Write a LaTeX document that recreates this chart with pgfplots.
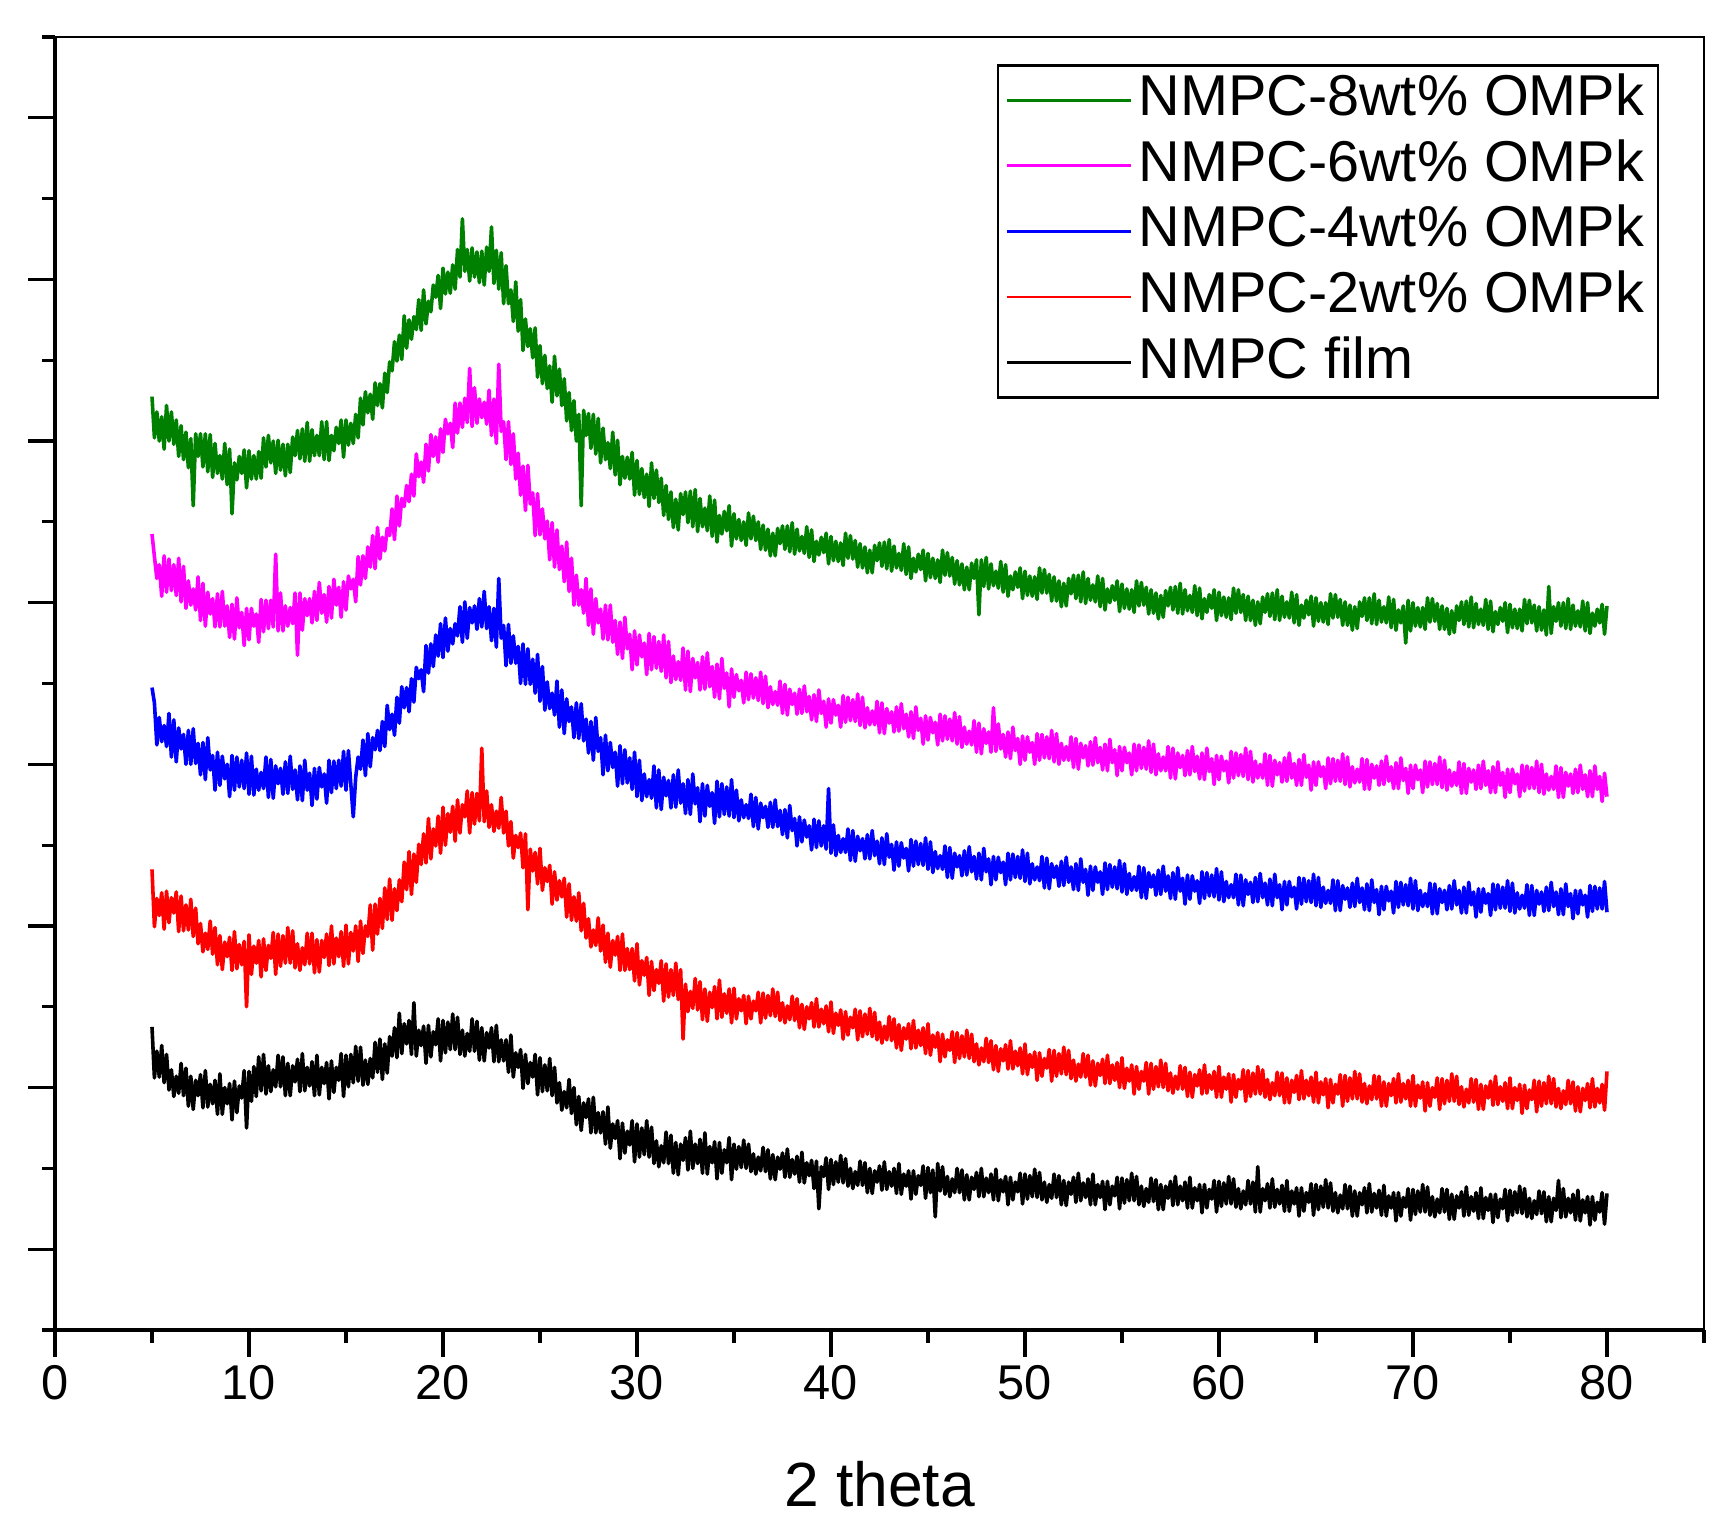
\documentclass[border=0pt]{standalone}
\usepackage{pgfplots}
\usepackage{pgfplotstable}
\usepackage{fontspec}
\setmainfont{Liberation Sans}
\pgfplotsset{compat=1.18}
\definecolor{cG}{RGB}{0,128,0}
\definecolor{cM}{RGB}{255,0,255}
\definecolor{cB}{RGB}{0,0,255}
\definecolor{cR}{RGB}{255,0,0}
\pgfplotstableread{
x g m b r k
5 11.55 9.85 7.95 5.70 3.75
5.125 11.04 9.57 7.76 4.99 3.12
5.25 11.36 9.30 7.24 5.34 3.45
5.375 11.00 9.47 7.58 5.13 3.13
5.5 11.30 9.08 7.28 5.41 3.52
5.625 10.90 9.58 7.48 4.96 3.06
5.75 11.44 9.13 7.22 5.43 3.41
5.875 11.00 9.54 7.63 5.04 2.97
6 11.36 9.15 7.09 5.35 3.22
6.125 10.96 9.47 7.55 5.16 2.89
6.25 11.26 9.09 7.03 5.42 3.14
6.375 10.81 9.55 7.45 4.93 2.93
6.5 11.19 9.01 7.19 5.37 3.30
6.625 10.77 9.45 7.37 4.94 2.90
6.75 11.11 8.93 7.00 5.26 3.24
6.875 10.67 9.27 7.42 4.95 2.77
7 11.03 8.97 7.00 5.33 3.14
7.125 10.20 9.17 7.44 4.87 2.73
7.25 11.09 8.91 7.01 5.22 3.09
7.375 10.81 9.32 7.26 4.78 2.90
7.5 11.09 8.78 6.87 5.03 3.16
7.625 10.68 9.24 7.27 4.68 2.75
7.75 11.09 8.71 6.81 4.91 3.21
7.875 10.62 9.13 7.33 4.71 2.76
8 11.08 8.86 6.93 5.06 3.04
8.125 10.55 9.05 7.11 4.65 2.80
8.25 10.97 8.70 6.68 4.98 3.09
8.375 10.60 9.11 7.15 4.52 2.67
8.5 10.82 8.70 6.74 4.88 3.17
8.625 10.53 9.14 7.10 4.46 2.67
8.75 10.97 8.71 6.82 4.80 3.00
8.875 10.46 8.96 7.00 4.62 2.80
9 10.90 8.57 6.60 4.86 3.05
9.125 10.10 8.98 7.11 4.45 2.60
9.25 10.73 8.55 6.68 4.93 3.08
9.375 10.52 9.06 7.09 4.47 2.69
9.5 10.81 8.69 6.72 4.77 3.02
9.625 10.60 8.88 7.05 4.52 2.87
9.75 10.89 8.47 6.70 4.81 3.21
9.875 10.42 8.93 7.14 4.00 2.50
10 10.88 8.54 6.63 4.89 3.20
10.125 10.53 8.93 7.10 4.40 2.83
10.25 10.82 8.71 6.62 4.75 3.26
10.375 10.53 8.86 6.94 4.54 2.89
10.5 10.87 8.51 6.68 4.82 3.38
10.625 10.54 9.04 6.90 4.37 2.96
10.75 11.04 8.64 6.70 4.84 3.41
10.875 10.68 9.03 7.09 4.45 2.92
11 11.07 8.68 6.59 4.76 3.27
11.125 10.73 9.03 7.06 4.60 2.95
11.25 11.00 8.70 6.58 4.92 3.22
11.375 10.60 9.60 6.98 4.40 3.01
11.5 11.01 8.65 6.76 4.90 3.40
11.625 10.64 9.12 6.95 4.50 3.01
11.75 10.96 8.65 6.63 4.88 3.38
11.875 10.57 8.96 7.03 4.54 2.90
12 10.96 8.71 6.64 4.98 3.30
12.125 10.61 8.94 7.10 4.54 2.90
12.25 11.05 8.74 6.69 4.94 3.27
12.375 10.82 9.12 6.93 4.48 3.07
12.5 11.13 8.35 6.56 4.78 3.35
12.625 10.78 9.12 6.98 4.45 2.95
12.75 11.15 8.66 6.55 4.73 3.42
12.875 10.75 9.05 7.05 4.52 2.96
13 11.23 8.84 6.68 4.91 3.25
13.125 10.75 9.05 6.89 4.53 3.02
13.25 11.14 8.75 6.49 4.91 3.32
13.375 10.82 9.14 6.95 4.42 2.90
13.5 11.07 8.78 6.57 4.83 3.40
13.625 10.82 9.25 6.96 4.43 2.91
13.75 11.24 8.87 6.72 4.82 3.25
13.875 10.77 9.10 6.88 4.61 3.05
14 11.24 8.76 6.52 4.90 3.31
14.125 10.76 9.20 7.05 4.51 2.86
14.25 11.07 8.81 6.65 5.00 3.33
14.375 10.88 9.29 7.04 4.53 2.94
14.5 11.17 8.97 6.70 4.85 3.25
14.625 10.97 9.19 7.05 4.62 3.09
14.75 11.26 8.82 6.73 4.93 3.42
14.875 10.80 9.26 7.16 4.50 2.89
15 11.26 8.91 6.68 5.01 3.40
15.125 10.95 9.33 7.17 4.53 3.01
15.25 11.22 9.17 6.75 4.92 3.41
15.375 10.97 9.29 6.35 4.69 3.06
15.5 11.33 9.01 6.84 5.00 3.51
15.625 11.04 9.57 7.09 4.56 3.08
15.75 11.53 9.22 6.94 5.06 3.50
15.875 11.20 9.58 7.30 4.66 3.03
16 11.61 9.30 6.86 5.00 3.34
16.125 11.35 9.69 7.38 4.87 3.04
16.25 11.58 9.44 6.97 5.26 3.36
16.375 11.27 9.83 7.33 4.70 3.12
16.5 11.72 9.42 7.18 5.27 3.56
16.625 11.44 9.93 7.42 4.90 3.19
16.75 11.71 9.54 7.17 5.34 3.60
16.875 11.41 9.81 7.53 4.97 3.10
17 11.84 9.64 7.22 5.47 3.54
17.125 11.60 9.92 7.73 5.08 3.18
17.25 11.98 9.83 7.43 5.58 3.63
17.375 11.87 10.16 7.62 5.07 3.39
17.5 12.23 9.78 7.36 5.46 3.74
17.625 11.99 10.32 7.83 5.19 3.37
17.75 12.31 9.95 7.51 5.57 3.92
17.875 12.01 10.29 7.96 5.30 3.42
18 12.55 10.19 7.70 5.79 3.79
18.125 12.15 10.45 7.95 5.45 3.54
18.25 12.50 10.25 7.65 5.92 3.83
18.375 12.26 10.59 8.06 5.39 3.41
18.5 12.54 10.32 7.77 5.89 4.05
18.625 12.38 10.84 8.20 5.54 3.39
18.75 12.75 10.56 8.06 6.01 3.71
18.875 12.37 10.74 8.17 5.76 3.52
19 12.87 10.49 7.90 6.14 3.76
19.125 12.45 10.96 8.47 5.78 3.30
19.25 12.73 10.63 8.13 6.33 3.77
19.375 12.60 11.08 8.49 5.83 3.38
19.5 12.93 10.81 8.21 6.20 3.69
19.625 12.78 11.05 8.60 5.99 3.53
19.75 13.05 10.74 8.34 6.36 3.85
19.875 12.64 11.15 8.74 5.90 3.33
20 13.14 10.86 8.32 6.47 3.83
20.125 12.82 11.27 8.81 6.00 3.43
20.25 13.09 11.09 8.40 6.39 3.81
20.375 12.83 11.22 8.68 6.16 3.47
20.5 13.18 10.92 8.49 6.48 3.91
20.625 12.88 11.47 8.74 6.05 3.47
20.75 13.37 11.10 8.59 6.56 3.87
20.875 13.03 11.47 8.95 6.15 3.41
21 13.75 11.17 8.51 6.50 3.71
21.125 13.10 11.53 9.01 6.35 3.39
21.25 13.37 11.23 8.56 6.67 3.67
21.375 12.98 11.90 8.94 6.15 3.45
21.5 13.39 11.18 8.75 6.65 3.85
21.625 13.03 11.66 8.96 6.26 3.45
21.75 13.34 11.22 8.67 6.64 3.82
21.875 12.96 11.52 9.05 6.30 3.34
22 13.35 11.29 8.70 7.20 3.74
22.125 12.93 11.48 9.14 6.29 3.33
22.25 13.40 11.21 8.68 6.67 3.68
22.375 13.10 11.63 8.95 6.22 3.49
22.5 13.65 11.07 8.53 6.50 3.74
22.625 12.95 11.52 8.93 6.17 3.32
22.75 13.36 10.97 8.45 6.42 3.77
22.875 12.88 11.95 9.30 6.21 3.32
23 13.33 11.12 8.56 6.59 3.59
23.125 12.70 11.24 8.72 6.15 3.33
23.25 13.17 10.77 8.22 6.42 3.59
23.375 12.70 11.24 8.73 5.99 3.19
23.5 12.87 10.71 8.25 6.29 3.65
23.625 12.48 11.09 8.59 5.84 3.13
23.75 12.97 10.53 8.25 6.12 3.43
23.875 12.36 10.85 8.46 5.97 3.25
24 12.75 10.33 8.00 6.15 3.47
24.125 12.12 10.69 8.49 5.72 2.99
24.25 12.51 10.14 7.99 6.14 3.41
24.375 12.17 10.70 8.43 5.20 3.05
24.5 12.39 10.22 7.99 5.95 3.31
24.625 12.03 10.36 8.30 5.68 3.13
24.75 12.40 9.83 7.88 5.91 3.41
24.875 11.79 10.35 8.36 5.52 2.91
25 12.18 9.84 7.78 5.96 3.37
25.125 11.71 10.16 8.21 5.44 2.95
25.25 12.06 9.79 7.67 5.72 3.28
25.375 11.65 10.01 8.02 5.55 2.96
25.5 11.93 9.53 7.69 5.75 3.36
25.625 11.48 9.99 7.88 5.27 2.90
25.75 12.05 9.44 7.61 5.67 3.25
25.875 11.56 9.90 8.03 5.32 2.81
26 11.89 9.41 7.46 5.56 3.06
26.125 11.44 9.70 7.92 5.36 2.72
26.25 11.77 9.26 7.38 5.59 2.95
26.375 11.25 9.75 7.81 5.11 2.75
26.5 11.60 9.14 7.53 5.52 3.10
26.625 11.13 9.55 7.71 5.07 2.68
26.75 11.50 8.97 7.33 5.36 3.00
26.875 11.00 9.34 7.76 5.06 2.54
27 11.33 8.97 7.32 5.41 2.89
27.125 10.20 9.16 7.75 4.94 2.47
27.25 11.38 8.87 7.29 5.28 2.81
27.375 11.07 9.30 7.56 4.85 2.63
27.5 11.34 8.72 7.14 5.09 2.86
27.625 10.91 9.17 7.53 4.74 2.44
27.75 11.33 8.61 7.05 4.95 2.88
27.875 10.84 9.05 7.58 4.76 2.44
28 11.28 8.75 7.16 5.10 2.69
28.125 10.73 8.92 7.33 4.69 2.44
28.25 11.16 8.55 6.87 5.01 2.70
28.375 10.77 8.97 7.36 4.55 2.30
28.5 10.98 8.54 6.92 4.91 2.76
28.625 10.66 8.97 7.27 4.49 2.25
28.75 11.11 8.51 6.96 4.82 2.55
28.875 10.58 8.78 7.15 4.64 2.37
29 11.01 8.36 6.73 4.87 2.59
29.125 10.46 8.76 7.23 4.45 2.12
29.25 10.81 8.31 6.76 4.90 2.56
29.375 10.54 8.82 7.18 4.45 2.19
29.5 10.80 8.43 6.77 4.72 2.46
29.625 10.53 8.61 7.08 4.46 2.29
29.75 10.86 8.17 6.69 4.72 2.59
29.875 10.33 8.65 7.15 4.32 2.08
30 10.76 8.23 6.60 4.78 2.55
30.125 10.34 8.60 7.05 4.27 2.14
30.25 10.66 8.33 6.55 4.57 2.50
30.375 10.30 8.50 6.88 4.39 2.17
30.5 10.59 8.11 6.60 4.61 2.59
30.625 10.19 8.62 6.81 4.14 2.14
30.75 10.73 8.17 6.58 4.56 2.51
30.875 10.29 8.58 6.98 4.20 2.06
31 10.64 8.19 6.46 4.46 2.34
31.125 10.24 8.52 6.93 4.29 2.02
31.25 10.54 8.15 6.44 4.57 2.28
31.375 10.08 8.60 6.84 4.07 2.07
31.5 10.45 8.07 6.61 4.53 2.45
31.625 10.03 8.52 6.80 4.12 2.06
31.75 10.37 8.01 6.46 4.46 2.41
31.875 9.93 8.34 6.87 4.14 1.94
32 10.28 8.05 6.47 4.54 2.32
32.125 9.90 8.27 6.93 4.09 1.92
32.25 10.35 8.04 6.52 4.46 2.30
32.375 10.09 8.44 6.76 3.60 2.10
32.5 10.37 7.92 6.39 4.28 2.38
32.625 9.99 8.40 6.81 3.94 1.98
32.75 10.38 7.90 6.38 4.19 2.46
32.875 9.94 8.31 6.88 3.98 2.00
33 10.40 8.07 6.51 4.35 2.30
33.125 9.88 8.26 6.71 3.96 2.06
33.25 10.29 7.92 6.29 4.31 2.36
33.375 9.94 8.33 6.76 3.84 1.94
33.5 10.17 7.93 6.36 4.22 2.44
33.625 9.89 8.38 6.74 3.82 1.93
33.75 10.32 7.96 6.48 4.18 2.27
33.875 9.82 8.21 6.65 3.99 2.07
34 10.27 7.83 6.27 4.25 2.33
34.125 9.75 8.24 6.79 3.85 1.87
34.25 10.08 7.81 6.35 4.33 2.32
34.375 9.85 8.31 6.76 3.87 1.94
34.5 10.13 7.94 6.38 4.16 2.23
34.625 9.89 8.13 6.72 3.92 2.07
34.75 10.20 7.71 6.36 4.22 2.38
34.875 9.70 8.18 6.81 3.80 1.86
35 10.10 7.83 6.34 4.23 2.30
35.125 9.79 8.11 6.68 3.85 1.99
35.25 10.03 7.91 6.30 4.10 2.27
35.375 9.77 8.04 6.56 3.95 2.01
35.5 10.00 7.76 6.34 4.14 2.35
35.625 9.71 8.14 6.50 3.79 2.00
35.75 10.11 7.80 6.33 4.13 2.30
35.875 9.79 8.12 6.63 3.85 1.96
36 10.07 7.82 6.23 4.07 2.18
36.125 9.77 8.07 6.59 3.95 1.93
36.25 10.00 7.79 6.20 4.18 2.14
36.375 9.66 8.14 6.52 3.80 1.97
36.5 9.96 7.75 6.34 4.17 2.26
36.625 9.65 8.09 6.48 3.86 1.96
36.75 9.91 7.70 6.22 4.14 2.23
36.875 9.58 7.96 6.53 3.89 1.87
37 9.86 7.74 6.22 4.22 2.17
37.125 9.58 7.90 6.56 3.88 1.86
37.25 9.92 7.73 6.23 4.18 2.14
37.375 9.73 8.03 6.43 3.83 1.99
37.5 9.95 7.63 6.13 4.05 2.19
37.625 9.66 7.99 6.44 3.80 1.89
37.75 9.95 7.61 6.09 4.01 2.24
37.875 9.63 7.93 6.49 3.84 1.89
38 9.99 7.74 6.18 4.13 2.11
38.125 9.60 7.88 6.33 3.83 1.93
38.25 9.91 7.62 5.99 4.10 2.15
38.375 9.64 7.93 6.35 3.74 1.83
38.5 9.82 7.63 6.04 4.03 2.20
38.625 9.61 7.97 6.31 3.72 1.82
38.75 9.94 7.65 6.10 4.00 2.07
38.875 9.56 7.84 6.24 3.85 1.91
39 9.90 7.55 5.94 4.05 2.10
39.125 9.51 7.86 6.32 3.75 1.75
39.25 9.76 7.53 5.97 4.10 2.09
39.375 9.59 7.92 6.30 3.75 1.50
39.5 9.81 7.63 5.99 3.97 2.02
39.625 9.62 7.78 6.24 3.79 1.90
39.75 9.86 7.46 5.95 4.01 2.13
39.875 9.48 7.81 6.70 3.69 1.74
40 9.82 7.51 5.90 4.06 2.11
40.125 9.52 7.80 6.25 3.67 1.80
40.25 9.76 7.61 5.87 3.92 2.08
40.375 9.51 7.73 6.12 3.77 1.83
40.5 9.74 7.46 5.91 3.96 2.16
40.625 9.46 7.85 6.08 3.60 1.82
40.75 9.86 7.52 5.91 3.94 2.12
40.875 9.55 7.83 6.20 3.65 1.78
41 9.83 7.54 5.81 3.87 2.00
41.125 9.54 7.80 6.18 3.74 1.75
41.25 9.77 7.53 5.80 3.97 1.96
41.375 9.44 7.87 6.11 3.59 1.79
41.5 9.73 7.48 5.93 3.95 2.09
41.625 9.43 7.83 6.08 3.63 1.79
41.75 9.69 7.45 5.83 3.91 2.07
41.875 9.37 7.70 6.13 3.66 1.70
42 9.65 7.49 5.83 3.98 2.00
42.125 9.37 7.66 6.18 3.63 1.69
42.25 9.71 7.49 5.87 3.93 1.97
42.375 9.52 7.78 6.05 3.59 1.83
42.5 9.74 7.39 5.77 3.81 2.03
42.625 9.45 7.76 6.09 3.55 1.73
42.75 9.75 7.38 5.76 3.76 2.08
42.875 9.42 7.69 6.14 3.59 1.74
43 9.78 7.51 5.85 3.88 1.96
43.125 9.39 7.65 6.01 3.58 1.78
43.25 9.70 7.40 5.69 3.85 2.00
43.375 9.43 7.71 6.04 3.49 1.69
43.5 9.61 7.41 5.74 3.78 2.06
43.625 9.40 7.75 6.03 3.46 1.68
43.75 9.73 7.44 5.84 3.74 1.93
43.875 9.35 7.62 5.96 3.60 1.78
44 9.69 7.34 5.68 3.79 1.97
44.125 9.30 7.65 6.07 3.48 1.62
44.25 9.55 7.32 5.74 3.83 1.97
44.375 9.38 7.71 6.05 3.49 1.68
44.5 9.60 7.42 5.76 3.71 1.91
44.625 9.41 7.57 6.02 3.52 1.79
44.75 9.65 7.25 5.75 3.74 2.03
44.875 9.27 7.60 6.09 3.42 1.63
45 9.61 7.30 5.70 3.79 2.01
45.125 9.31 7.58 6.04 3.40 1.70
45.25 9.55 7.39 5.66 3.65 1.98
45.375 9.30 7.52 5.92 3.50 1.40
45.5 9.53 7.24 5.71 3.68 2.06
45.625 9.25 7.62 5.87 3.32 1.72
45.75 9.65 7.29 5.70 3.66 2.02
45.875 9.34 7.60 5.99 3.38 1.68
46 9.62 7.31 5.60 3.59 1.90
46.125 9.33 7.56 5.97 3.46 1.65
46.25 9.56 7.29 5.59 3.69 1.87
46.375 9.23 7.64 5.90 3.31 1.70
46.5 9.52 7.25 5.73 3.68 2.00
46.625 9.22 7.59 5.87 3.36 1.70
46.75 9.48 7.21 5.62 3.64 1.98
46.875 9.16 7.46 5.93 3.38 1.61
47 9.44 7.25 5.63 3.71 1.92
47.125 9.16 7.41 5.98 3.36 1.61
47.25 9.49 7.24 5.67 3.66 1.89
47.375 9.30 7.54 5.86 3.32 1.74
47.5 9.53 7.15 5.58 3.54 1.95
47.625 8.85 7.51 5.90 3.28 1.65
47.75 9.53 7.13 5.57 3.49 2.00
47.875 9.20 7.44 5.96 3.32 1.65
48 9.56 7.26 5.67 3.61 1.88
48.125 9.17 7.40 5.83 3.31 1.70
48.25 9.48 7.15 5.51 3.58 1.93
48.375 9.21 7.70 5.86 3.22 1.61
48.5 9.39 7.16 5.57 3.52 1.99
48.625 9.18 7.50 5.85 3.20 1.60
48.75 9.51 7.19 5.66 3.48 1.86
48.875 9.13 7.37 5.79 3.33 1.71
49 9.47 7.09 5.51 3.53 1.90
49.125 9.08 7.40 5.90 3.23 1.55
49.25 9.33 7.07 5.57 3.58 1.89
49.375 9.16 7.46 5.89 3.23 1.61
49.5 9.38 7.17 5.60 3.45 1.83
49.625 9.19 7.32 5.86 3.27 1.71
49.75 9.43 7.00 5.59 3.49 1.94
49.875 9.05 7.35 5.94 3.17 1.56
50 9.39 7.05 5.55 3.54 1.93
50.125 9.09 7.34 5.90 3.16 1.62
50.25 9.33 7.15 5.52 3.41 1.91
50.375 9.08 7.27 5.77 3.25 1.65
50.5 9.32 7.00 5.57 3.44 1.99
50.625 9.04 7.38 5.73 3.09 1.64
50.75 9.43 7.05 5.56 3.43 1.95
50.875 9.12 7.37 5.86 3.14 1.61
51 9.41 7.08 5.47 3.36 1.83
51.125 9.12 7.34 5.84 3.24 1.58
51.25 9.35 7.07 5.46 3.47 1.80
51.375 9.02 7.42 5.77 3.08 1.63
51.5 9.32 7.03 5.60 3.46 1.93
51.625 9.02 7.38 5.74 3.14 1.64
51.75 9.27 7.00 5.49 3.42 1.91
51.875 8.95 7.26 5.80 3.17 1.55
52 9.24 7.05 5.50 3.50 1.85
52.125 8.96 7.22 5.85 3.16 1.54
52.25 9.30 7.05 5.54 3.46 1.83
52.375 9.11 7.34 5.73 3.11 1.68
52.5 9.34 6.96 5.45 3.34 1.89
52.625 9.05 7.32 5.77 3.08 1.58
52.75 9.34 6.94 5.44 3.29 1.94
52.875 9.01 7.26 5.83 3.13 1.60
53 9.38 7.08 5.54 3.42 1.82
53.125 8.99 7.23 5.70 3.13 1.64
53.25 9.30 6.98 5.38 3.40 1.87
53.375 9.03 7.28 5.74 3.03 1.55
53.5 9.22 6.99 5.44 3.33 1.93
53.625 9.01 7.33 5.73 3.02 1.55
53.75 9.33 7.02 5.54 3.30 1.80
53.875 8.95 7.21 5.67 3.15 1.64
54 9.30 6.93 5.39 3.35 1.84
54.125 8.91 7.25 5.78 3.05 1.49
54.25 9.17 6.92 5.45 3.40 1.84
54.375 9.00 7.31 5.76 3.05 1.55
54.5 9.21 7.02 5.48 3.28 1.78
54.625 9.03 7.18 5.73 3.09 1.66
54.75 9.27 6.86 5.46 3.31 1.89
54.875 8.89 7.22 5.81 3.00 1.50
55 9.23 6.92 5.42 3.37 1.88
55.125 8.93 7.21 5.77 2.99 1.57
55.25 9.17 7.02 5.39 3.24 1.86
55.375 8.92 7.14 5.65 3.08 1.60
55.5 9.16 6.87 5.44 3.28 1.94
55.625 8.88 7.25 5.61 2.92 1.60
55.75 9.27 6.92 5.44 3.26 1.90
55.875 8.96 7.24 5.74 2.98 1.55
56 9.25 6.95 5.35 3.20 1.78
56.125 8.97 7.21 5.72 3.08 1.53
56.25 9.19 6.94 5.34 3.31 1.75
56.375 8.86 7.29 5.66 2.92 1.58
56.5 9.16 6.90 5.48 3.30 1.88
56.625 8.87 7.25 5.63 2.98 1.59
56.75 9.12 6.87 5.38 3.26 1.86
56.875 8.80 7.13 5.69 3.01 1.49
57 9.09 6.92 5.39 3.34 1.80
57.125 8.82 7.09 5.74 3.00 1.49
57.25 9.15 6.92 5.43 3.30 1.78
57.375 8.96 7.22 5.62 2.96 1.63
57.5 9.19 6.83 5.34 3.18 1.84
57.625 8.91 7.20 5.66 2.93 1.54
57.75 9.20 6.82 5.33 3.14 1.90
57.875 8.87 7.14 5.72 2.98 1.55
58 9.24 6.96 5.43 3.27 1.78
58.125 8.86 7.11 5.59 2.98 1.60
58.25 9.16 6.86 5.27 3.25 1.83
58.375 8.90 7.17 5.63 2.89 1.51
58.5 9.09 6.87 5.33 3.19 1.89
58.625 8.88 7.22 5.62 2.88 1.51
58.75 9.21 6.91 5.43 3.16 1.76
58.875 8.84 7.10 5.56 3.02 1.60
59 9.18 6.82 5.28 3.22 1.80
59.125 8.80 7.14 5.67 2.92 1.45
59.25 9.05 6.81 5.34 3.28 1.80
59.375 8.88 7.20 5.66 2.93 1.51
59.5 9.10 6.91 5.37 3.16 1.74
59.625 8.93 7.07 5.63 2.98 1.62
59.75 9.16 6.75 5.36 3.20 1.85
59.875 8.78 7.11 5.71 2.88 1.46
60 9.13 6.81 5.32 3.26 1.84
60.125 8.84 7.10 5.67 2.88 1.53
60.25 9.07 6.92 5.30 3.13 1.82
60.375 8.82 7.04 5.55 2.98 1.56
60.5 9.06 6.77 5.35 3.17 1.90
60.625 8.79 7.16 5.51 2.82 1.56
60.75 9.18 6.83 5.35 3.16 1.87
60.875 8.87 7.14 5.64 2.88 1.52
61 9.16 6.86 5.26 3.10 1.75
61.125 8.88 7.12 5.63 2.98 1.50
61.25 9.10 6.85 5.25 3.22 1.72
61.375 8.78 7.20 5.57 2.83 1.55
61.5 9.08 6.81 5.39 3.21 1.85
61.625 8.78 7.16 5.54 2.89 1.56
61.75 9.03 6.78 5.29 3.18 1.83
61.875 8.72 7.04 5.60 2.92 1.46
62 9.01 6.83 5.30 3.26 2.02
62.125 8.74 7.00 5.65 2.92 1.46
62.25 9.07 6.83 5.35 3.22 1.75
62.375 8.88 7.13 5.53 2.88 1.60
62.5 9.11 6.74 5.26 3.10 1.81
62.625 8.83 7.11 5.58 2.85 1.51
62.75 9.12 6.73 5.25 3.06 1.87
62.875 8.79 7.05 5.64 2.90 1.52
63 9.16 6.87 5.35 3.19 1.74
63.125 8.78 7.02 5.51 2.90 1.56
63.25 9.08 6.78 5.20 3.18 1.79
63.375 8.82 7.08 5.55 2.81 1.47
63.5 9.01 6.79 5.26 3.12 1.85
63.625 8.81 7.14 5.55 2.81 1.47
63.75 9.13 6.83 5.36 3.09 1.72
63.875 8.75 7.01 5.48 2.94 1.56
64 9.10 6.74 5.21 3.15 1.76
64.125 8.72 7.06 5.60 2.85 1.41
64.25 8.97 6.74 5.27 3.21 1.76
64.375 8.81 7.12 5.59 2.86 1.47
64.5 9.03 6.84 5.30 3.09 1.70
64.625 8.85 6.99 5.56 2.90 1.58
64.75 9.08 6.68 5.29 3.13 1.81
64.875 8.71 7.03 5.64 2.82 1.42
65 9.06 6.74 5.25 3.19 1.80
65.125 8.77 7.03 5.60 2.81 1.49
65.25 9.00 6.85 5.23 3.07 1.78
65.375 8.76 6.97 5.48 2.91 1.52
65.5 9.00 6.70 5.28 3.11 1.86
65.625 8.73 7.08 5.44 2.75 1.51
65.75 9.11 6.76 5.28 3.10 1.82
65.875 8.81 7.07 5.57 2.81 1.47
66 9.10 6.79 5.19 3.04 1.70
66.125 8.82 7.05 5.56 2.92 1.45
66.25 9.04 6.79 5.19 3.16 1.67
66.375 8.72 7.13 5.50 2.77 1.50
66.5 9.01 6.75 5.33 3.15 1.80
66.625 8.72 7.09 5.47 2.83 1.50
66.75 8.97 6.72 5.23 3.12 1.78
66.875 8.66 6.97 5.53 2.86 1.41
67 8.95 6.77 5.24 3.20 1.72
67.125 8.68 6.94 5.59 2.86 1.41
67.25 9.01 6.78 5.29 3.17 1.70
67.375 8.83 7.07 5.47 2.82 1.55
67.5 9.06 6.69 5.20 3.05 1.76
67.625 8.78 7.06 5.52 2.80 1.45
67.75 9.06 6.69 5.19 3.02 1.81
67.875 8.74 7.00 5.57 2.85 1.46
68 9.11 6.83 5.29 3.15 1.69
68.125 8.73 6.98 5.45 2.86 1.51
68.25 9.03 6.74 5.14 3.14 1.73
68.375 8.76 7.04 5.49 2.77 1.42
68.5 8.95 6.75 5.20 3.07 1.79
68.625 8.75 7.10 5.49 2.77 1.41
68.75 9.07 6.79 5.31 3.05 1.66
68.875 8.69 6.97 5.43 2.90 1.51
69 9.04 6.70 5.16 3.11 1.70
69.125 8.66 7.02 5.55 2.81 1.35
69.25 8.91 6.70 5.23 3.17 1.70
69.375 8.75 7.08 5.54 2.82 1.41
69.5 8.96 6.80 5.26 3.05 1.64
69.625 8.50 6.95 5.51 2.86 1.52
69.75 9.03 6.64 5.25 3.09 1.75
69.875 8.65 6.99 5.59 2.77 1.36
70 9.00 6.70 5.21 3.15 1.74
70.125 8.71 6.99 5.56 2.77 1.43
70.25 8.94 6.81 5.19 3.03 1.72
70.375 8.70 6.93 5.44 2.87 1.46
70.5 8.94 6.65 5.24 3.07 1.80
70.625 8.67 7.04 5.40 2.71 1.46
70.75 9.06 6.72 5.24 3.06 1.77
70.875 8.76 7.03 5.53 2.77 1.42
71 9.05 6.75 5.15 3.00 1.65
71.125 8.77 7.01 5.52 2.88 1.40
71.25 8.99 6.75 5.15 3.12 1.62
71.375 8.67 7.09 5.46 2.73 1.45
71.5 8.96 6.71 5.29 3.11 1.75
71.625 8.67 7.05 5.44 2.80 1.46
71.75 8.93 6.68 5.20 3.09 1.74
71.875 8.61 6.93 5.50 2.83 1.37
72 8.90 6.73 5.21 3.17 1.68
72.125 8.63 6.90 5.56 2.83 1.37
72.25 8.96 6.74 5.26 3.14 1.66
72.375 8.78 7.03 5.44 2.79 1.51
72.5 9.01 6.64 5.16 3.01 1.71
72.625 8.73 7.01 5.48 2.76 1.41
72.75 9.02 6.64 5.16 2.98 1.77
72.875 8.70 6.95 5.54 2.81 1.42
73 9.07 6.78 5.26 3.11 1.65
73.125 8.69 6.93 5.42 2.82 1.47
73.25 8.99 6.69 5.11 3.10 1.70
73.375 8.73 6.99 5.46 2.73 1.38
73.5 8.92 6.70 5.17 3.04 1.76
73.625 8.72 7.04 5.46 2.73 1.38
73.75 9.04 6.74 5.28 3.02 1.64
73.875 8.67 6.92 5.40 2.87 1.48
74 9.02 6.65 5.13 3.08 1.68
74.125 8.64 6.97 5.52 2.78 1.33
74.25 8.89 6.65 5.20 3.14 1.68
74.375 8.73 7.03 5.51 2.79 1.39
74.5 8.94 6.74 5.22 3.01 1.62
74.625 8.77 6.90 5.48 2.83 1.50
74.75 9.00 6.59 5.22 3.06 1.74
74.875 8.63 6.94 5.56 2.74 1.35
75 8.98 6.65 5.18 3.12 1.73
75.125 8.69 6.94 5.53 2.74 1.42
75.25 8.92 6.76 5.16 3.00 1.71
75.375 8.68 6.88 5.41 2.84 1.45
75.5 8.92 6.60 5.21 3.04 1.78
75.625 8.65 6.99 5.38 2.68 1.44
75.75 9.04 6.67 5.22 3.03 1.75
75.875 8.74 6.98 5.51 2.74 1.40
76 9.03 6.70 5.13 2.97 1.63
76.125 8.75 6.96 5.50 2.85 1.38
76.25 8.97 6.70 5.13 3.09 1.60
76.375 8.65 7.04 5.44 2.70 1.43
76.5 8.95 6.65 5.27 3.08 1.72
76.625 8.66 7.00 5.42 2.77 1.44
76.75 8.91 6.63 5.18 3.06 1.71
76.875 8.60 6.88 5.48 2.80 1.34
77 9.20 6.68 5.19 3.14 1.65
77.125 8.62 6.85 5.54 2.80 1.34
77.25 8.95 6.69 5.24 3.11 1.63
77.375 8.77 6.98 5.42 2.76 1.48
77.5 9.00 6.59 5.14 2.99 1.85
77.625 8.71 6.96 5.46 2.74 1.39
77.75 9.00 6.59 5.14 2.96 1.75
77.875 8.68 6.90 5.52 2.79 1.40
78 9.05 6.73 5.24 3.09 1.63
78.125 8.67 6.88 5.40 2.80 1.45
78.25 8.97 6.64 5.09 3.07 1.68
78.375 8.71 6.94 5.44 2.71 1.36
78.5 8.90 6.65 5.15 3.01 1.73
78.625 8.70 6.99 5.44 2.70 1.35
78.75 9.02 6.69 5.26 2.99 1.61
78.875 8.65 6.87 5.38 2.84 1.45
79 9.00 6.60 5.11 3.05 1.65
79.125 8.62 6.92 5.50 2.75 1.30
79.25 8.87 6.60 5.18 3.11 1.65
79.375 8.71 6.98 5.49 2.76 1.36
79.5 8.92 6.69 5.21 2.99 1.58
79.625 8.75 6.85 5.47 2.81 1.46
79.75 8.98 6.54 5.21 3.04 1.70
79.875 8.61 6.89 5.55 2.72 1.31
80 8.96 6.60 5.17 3.20 1.69
}\data
\begin{document}
\begin{tikzpicture}
\begin{axis}[
  at={(0,0)}, anchor=south west,
  scale only axis, width=412.25pt, height=323.25pt,
  xmin=0, xmax=85, ymin=0, ymax=16,
  clip=false,
  axis line style={line width=0.6pt},
  xtick={0,10,...,80}, minor xtick={5,15,...,85},
  ytick={1,3,...,15}, minor ytick={0,2,...,16},
  yticklabels={},
  tick pos=left, tick align=outside,
  major tick length=6.7pt, minor tick length=3.3pt,
  every tick/.style={black, line width=0.8pt},
  /pgf/number format/assume math mode=true,
  tick label style={font=\fontsize{12.2}{14}\selectfont},
  xticklabel style={yshift=1.5pt},
  xlabel={2 theta},
  every axis x label/.style={at={(axis description cs:0.5,0)}, anchor=base, yshift=-44pt, font=\fontsize{15.6}{18}\selectfont},
  legend cell align=left,
  legend image code/.code={\draw[#1, line width=0.7pt] (0pt,0pt) -- (31pt,0pt);},
  legend style={at={(0.973,0.979)}, anchor=north east, draw=black, line width=0.6pt,
    inner xsep=2pt, inner ysep=0.5pt, row sep=0pt,
    font=\fontsize{14.4}{17}\selectfont,
    nodes={inner sep=1.5pt, text height=10.6pt, text depth=2.8pt}},
  every axis plot/.append style={line width=0.9pt, line join=round},
]
\addplot[cG] table[x=x, y=g] {\data};
\addlegendentry{NMPC-8wt\% OMPk}
\addplot[cM] table[x=x, y=m] {\data};
\addlegendentry{NMPC-6wt\% OMPk}
\addplot[cB] table[x=x, y=b] {\data};
\addlegendentry{NMPC-4wt\% OMPk}
\addplot[cR] table[x=x, y=r] {\data};
\addlegendentry{NMPC-2wt\% OMPk}
\addplot[black] table[x=x, y=k] {\data};
\addlegendentry{NMPC film}
\draw[line width=1.1pt] (rel axis cs:0,1) -- (rel axis cs:0,0) -- (rel axis cs:1,0);
\end{axis}
\pgfresetboundingbox
\path[use as bounding box] (-13.75pt,-47.5pt) rectangle (416.5pt,332.5pt);
\end{tikzpicture}
\end{document}
